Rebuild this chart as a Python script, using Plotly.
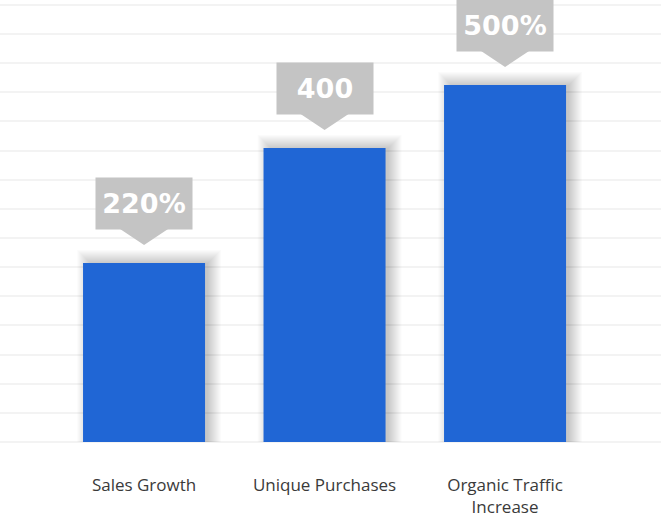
import plotly.graph_objects as go

categories = ["Sales Growth", "Unique Purchases", "Organic Traffic<br>Increase"]
bar_values = [6.14, 10.09, 12.25]
value_labels = ["220%", "400", "500%"]
grid_ticks = list(range(0, 16))

BAR_COLOR = "#2066d5"
LABEL_BG = "#c4c4c4"

fig = go.Figure()
fig.add_trace(go.Bar(
    x=list(range(len(categories))),
    y=bar_values,
    width=0.676,
    marker=dict(color=BAR_COLOR, line=dict(width=0)),
    hoverinfo="skip",
))

shapes = []
annotations = []
half_px = 61
box_gap = 33
for i, v in enumerate(bar_values):
    # soft shadow (stacked translucent rectangles)
    for k in range(14):
        shapes.append(dict(
            type="rect", layer="between",
            xref="x", yref="y",
            xsizemode="pixel", ysizemode="pixel",
            xanchor=i, yanchor=v,
            x0=-half_px + 7 - k, x1=half_px + 3 + k,
            y0=-600, y1=0 + k,
            fillcolor="rgba(0,0,0,0.016)", line=dict(width=0),
        ))
    # pointer triangle
    shapes.append(dict(
        type="path", layer="above",
        xref="x", yref="y",
        xsizemode="pixel", ysizemode="pixel",
        xanchor=i, yanchor=v,
        path="M -24,%d L 24,%d L 0,%d Z" % (box_gap + 1, box_gap + 1, box_gap - 15),
        fillcolor=LABEL_BG, line=dict(width=0),
    ))
    annotations.append(dict(
        x=i, y=v, xref="x", yref="y",
        text="<b>%s</b>" % value_labels[i],
        showarrow=False, yanchor="bottom", xanchor="center",
        yshift=box_gap, width=96, height=51,
        bgcolor=LABEL_BG, borderpad=0,
        font=dict(family="DejaVu Sans", size=27, color="white"),
    ))

fig.update_layout(
    width=661, height=515,
    margin=dict(l=0, r=0, t=2, b=73, autoexpand=False),
    paper_bgcolor="white", plot_bgcolor="white",
    showlegend=False,
    shapes=shapes, annotations=annotations,
    xaxis=dict(
        range=[-0.798, 2.864], automargin=False,
        tickmode="array", tickvals=list(range(len(categories))), ticktext=categories,
        showgrid=False, zeroline=False, showline=False, ticks="",
        ticklabelstandoff=31,
        tickfont=dict(family="Open Sans", size=17, color="#3a3a3a"),
    ),
    yaxis=dict(
        range=[0, 15.1], automargin=False,
        tickmode="array", tickvals=grid_ticks,
        showticklabels=False, ticks="",
        showgrid=True, gridcolor="#f3f3f3", gridwidth=2,
        zeroline=True, zerolinecolor="#f3f3f3", zerolinewidth=2,
        showline=False, fixedrange=True,
    ),
)

fig.write_html("out.html", config={"displayModeBar": False},
               post_script="document.body.style.margin='0';")
